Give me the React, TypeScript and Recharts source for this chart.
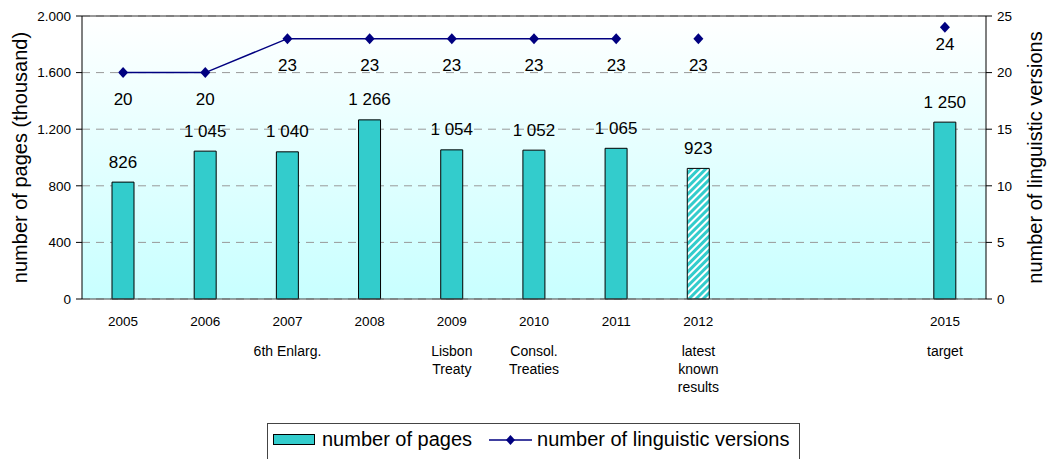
import {
  ComposedChart, Bar, Line, XAxis, YAxis, CartesianGrid, Cell, LabelList, Legend, ReferenceLine,
} from 'recharts'

// categories (2013 and 2014 are empty slots on the axis)
const years = ['2005', '2006', '2007', '2008', '2009', '2010', '2011', '2012', '2013', '2014', '2015']
const yearLabels = ['2005', '2006', '2007', '2008', '2009', '2010', '2011', '2012', '', '', '2015']
const notes = ['', '', '6th Enlarg.', '', 'Lisbon\nTreaty', 'Consol.\nTreaties', '', 'latest\nknown\nresults', '', '', 'target']

// series
const pages = [826, 1045, 1040, 1266, 1054, 1052, 1065, 923, null, null, 1250]
const pagesEstimated = [false, false, false, false, false, false, false, true, false, false, false]
const versions = [20, 20, 23, 23, 23, 23, 23, null, null, null, null]
const versionsLoose = [null, null, null, null, null, null, null, 23, null, null, 24]

// axis ticks
const pageTicks = [0, 400, 800, 1200, 1600, 2000]
const versionTicks = [0, 5, 10, 15, 20, 25]

const TEAL = '#33CCCC'
const NAVY = '#000080'
const FONT = '"Liberation Sans", Arial, sans-serif'

const data = years.map((year, i) => ({
  year,
  pages: pages[i],
  versions: versions[i],
  versionsLoose: versionsLoose[i],
}))

const thousands = (v: number, sep: string) =>
  v >= 1000 ? `${Math.floor(v / 1000)}${sep}${String(v % 1000).padStart(3, '0')}` : String(v)

function YearTick({ x, y, payload }: any) {
  const i = years.indexOf(payload.value)
  const lines = notes[i] ? notes[i].split('\n') : []
  return (
    <g>
      <text x={x} y={y + 27} textAnchor="middle" fontSize={13.5} fill="#000">{yearLabels[i]}</text>
      {lines.map((l, k) => (
        <text key={k} x={x} y={y + 57 + k * 18} textAnchor="middle" fontSize={14} fill="#000">{l}</text>
      ))}
    </g>
  )
}

const diamond = (props: any) => {
  const { cx, cy, index } = props
  if (cx == null || cy == null || props.value == null) return <g key={`e${index}`} />
  return (
    <path
      key={`d${index}`}
      d={`M${cx},${cy - 5.5}L${cx + 5},${cy}L${cx},${cy + 5.5}L${cx - 5},${cy}Z`}
      fill={NAVY}
    />
  )
}

const pageLabel = (props: any) => {
  const { x, y, width, value, index } = props
  if (value == null) return null
  return (
    <text key={index} x={x + width / 2} y={y - 20} textAnchor="middle" dominantBaseline="central" fontSize={17} fill="#000">
      {thousands(value, ' ')}
    </text>
  )
}

const versionLabel = (props: any) => {
  const { x, y, value, index } = props
  if (value == null) return null
  const below = value > 23 ? 17 : 26.5
  return (
    <text key={index} x={x} y={y + below} textAnchor="middle" dominantBaseline="central" fontSize={17} fill="#000">
      {value}
    </text>
  )
}

function LegendBox() {
  return (
    <div
      style={{
        boxSizing: 'border-box', height: 36, border: '1px solid #444', borderBottom: 'none',
        display: 'flex', alignItems: 'center', fontSize: 20, fontFamily: FONT, color: '#000',
        paddingLeft: 5, paddingBottom: 4,
      }}
    >
      <span style={{ width: 42, height: 11, background: TEAL, border: '1px solid #000', boxSizing: 'border-box' }} />
      <span style={{ marginLeft: 7 }}>number of pages</span>
      <svg width={43} height={12} style={{ marginLeft: 17 }}>
        <line x1={0} y1={6} x2={43} y2={6} stroke={NAVY} strokeWidth={1.5} />
        <path d="M21.5,1L26,6L21.5,11L17,6Z" fill={NAVY} />
      </svg>
      <span style={{ marginLeft: 5 }}>number of linguistic versions</span>
    </div>
  )
}

export default function App() {
  return (
    <div style={{ position: 'absolute', left: 0, top: 0, fontFamily: FONT }}>
      <ComposedChart width={1051} height={459} data={data} margin={{ top: 16, right: 0, bottom: 0, left: 0 }}>
        <defs>
          <linearGradient id="plotBg" x1="0" y1="0" x2="0" y2="1">
            <stop offset="0%" stopColor="#FFFFFF" />
            <stop offset="100%" stopColor="#C8FFFF" />
          </linearGradient>
          <pattern id="hatch" patternUnits="userSpaceOnUse" width="5" height="5" patternTransform="rotate(45)">
            <rect width="5" height="5" fill={TEAL} />
            <rect width="2" height="5" fill="#FFFFFF" />
          </pattern>
        </defs>
        <CartesianGrid
          yAxisId="left"
          vertical={false}
          stroke="#999"
          strokeDasharray="8 6"
          fill="url(#plotBg)"
          fillOpacity={1}
        />
        <XAxis
          dataKey="year"
          interval={0}
          height={160}
          tickLine={false}
          tickSize={0}
          tickMargin={0}
          axisLine={{ stroke: '#444' }}
          tick={<YearTick />}
        />
        <YAxis
          yAxisId="left"
          width={82}
          domain={[0, 2000]}
          ticks={pageTicks}
          interval={0}
          tickSize={6}
          tickMargin={5}
          axisLine={{ stroke: '#000' }}
          tickLine={{ stroke: '#000' }}
          tick={{ fontSize: 13.5, fill: '#000' }}
          tickFormatter={(v) => thousands(v, '.')}
          label={{ value: 'number of pages (thousand)', angle: -90, position: 'center', dx: -21, fontSize: 20, fill: '#000' }}
        />
        <YAxis
          yAxisId="right"
          orientation="right"
          width={65}
          domain={[0, 25]}
          ticks={versionTicks}
          interval={0}
          tickSize={6}
          tickMargin={5}
          axisLine={{ stroke: '#000' }}
          tickLine={{ stroke: '#000' }}
          tick={{ fontSize: 13.5, fill: '#000' }}
          label={{ value: 'number of linguistic versions', angle: -90, position: 'center', dx: 16, fontSize: 20, fill: '#000' }}
        />
        <ReferenceLine yAxisId="left" y={2000} stroke="#333" />
        <Bar
          yAxisId="left"
          dataKey="pages"
          barSize={22}
          fill={TEAL}
          stroke="#000"
          strokeWidth={1}
          isAnimationActive={false}
        >
          {data.map((_, i) => (
            <Cell key={i} fill={pagesEstimated[i] ? 'url(#hatch)' : TEAL} />
          ))}
          <LabelList dataKey="pages" content={pageLabel} />
        </Bar>
        <Line
          yAxisId="right"
          dataKey="versions"
          stroke={NAVY}
          strokeWidth={1.5}
          dot={diamond}
          activeDot={false}
          isAnimationActive={false}
        >
          <LabelList dataKey="versions" content={versionLabel} />
        </Line>
        <Line
          yAxisId="right"
          dataKey="versionsLoose"
          stroke="none"
          dot={diamond}
          activeDot={false}
          isAnimationActive={false}
        >
          <LabelList dataKey="versionsLoose" content={versionLabel} />
        </Line>
        <Legend
          layout="horizontal"
          verticalAlign="middle"
          align="center"
          content={() => <LegendBox />}
          wrapperStyle={{ left: 267, top: 423, width: 533, height: 36 }}
        />
      </ComposedChart>
    </div>
  )
}
